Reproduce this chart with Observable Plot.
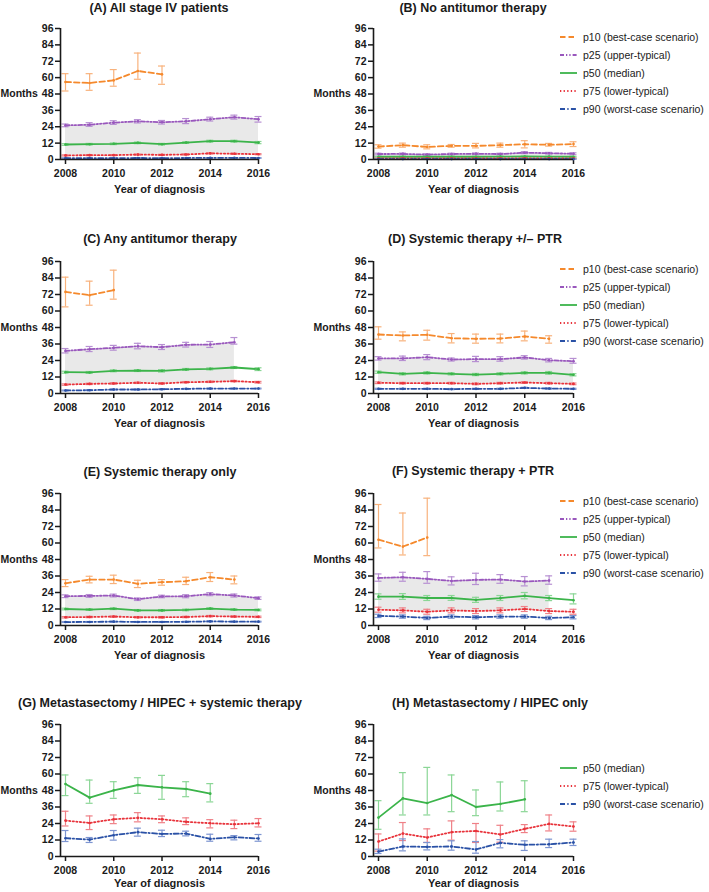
<!DOCTYPE html>
<html><head><meta charset="utf-8">
<script src="https://cdn.jsdelivr.net/npm/d3@7"></script>
<script src="https://cdn.jsdelivr.net/npm/@observablehq/plot@0.6"></script>
<style>
body{margin:0;background:#fff;}
#root{position:relative;width:709px;height:892px;font-family:"Liberation Sans",Arial,sans-serif;overflow:hidden;background:#fff}
.title{position:absolute;font-weight:bold;font-size:12.5px;white-space:nowrap;transform:translate(-50%,-50%);color:#1a1a1a}
.panel{position:absolute}
.legend{position:absolute;font-size:10.5px;color:#1a1a1a}
.legend .row{display:flex;align-items:center;height:17.9px;white-space:nowrap}
.legend svg{margin-right:4px}
svg [aria-label="y-axis tick"] path, svg [aria-label="x-axis tick"] path{stroke-width:1.5}
</style></head><body><div id="root"></div><script>
// ---- data ----
const years = [2008, 2009, 2010, 2011, 2012, 2013, 2014, 2015, 2016];
const xTicks = [2008, 2010, 2012, 2014, 2016];
const yTicks = [0, 12, 24, 36, 48, 60, 72, 84, 96];
const seriesKeys = ["p10", "p25", "p50", "p75", "p90"];
const seriesLabels = ["p10 (best-case scenario)", "p25 (upper-typical)", "p50 (median)", "p75 (lower-typical)", "p90 (worst-case scenario)"];
const titles = ["(A) All stage IV patients", "(B) No antitumor therapy", "(C) Any antitumor therapy", "(D) Systemic therapy +/\u2013 PTR",
  "(E) Systemic therapy only", "(F) Systemic therapy + PTR", "(G) Metastasectomy / HIPEC + systemic therapy", "(H) Metastasectomy / HIPEC only"];

// each entry per year: [estimate, lower CI, upper CI] (months)
const A_p10 = [[56.8,50.2,62.9],[56.1,50.7,62.9],[58,53.7,65.9],[64.9,58.8,78],[62.4,55.1,68.5],null,null,null,null];
const A_p25 = [[25,24,26],[25.5,24.3,27],[27,25.7,28.4],[28,26.8,29.2],[27.3,26,28.6],[28,26.3,30],[29.5,28.2,31],[31,29.6,32.5],[29.5,27.4,31.5]];
const A_p50 = [[11,10.4,11.6],[11.2,10.6,11.8],[11.5,10.9,12.1],[12.2,11.6,12.8],[11.2,10.6,11.8],[12.4,11.8,13],[13.4,12.7,14.1],[13.4,12.7,14.1],[12.4,11.6,13.2]];
const A_p75 = [[3,2.6,3.4],[3.2,2.8,3.6],[3.2,2.8,3.6],[3.6,3.2,4],[3.4,3,3.8],[3.7,3.3,4.1],[4.5,4.1,4.9],[4.2,3.8,4.6],[3.9,3.5,4.3]];
const A_p90 = [[1,0.8,1.2],[1,0.8,1.2],[1,0.8,1.2],[1.1,0.9,1.3],[1,0.8,1.2],[1.1,0.9,1.3],[1.2,1,1.4],[1.2,1,1.4],[1.1,0.9,1.3]];

const B_p10 = [[9.5,8.3,10.8],[10.5,9,12],[9.2,7.8,10.8],[10,9,11],[10,8.5,11.8],[10.5,9,12],[11.2,8.5,13.8],[10.8,9.8,11.8],[11.3,9.5,13]];
const B_p25 = [[4,3.4,4.6],[4.1,3.5,4.7],[3.6,3,4.2],[4,3.4,4.6],[4.2,3.6,4.8],[4,3.4,4.6],[5,4.3,5.7],[4.6,4,5.2],[4.2,3.5,4.9]];
const B_p50 = [[2,1.7,2.3],[2,1.7,2.3],[2,1.7,2.3],[2,1.7,2.3],[2,1.7,2.3],[2.1,1.8,2.4],[2.2,1.9,2.5],[2.1,1.8,2.4],[2,1.7,2.3]];
const B_p75 = [[0.8,0.6,1],[0.8,0.6,1],[0.8,0.6,1],[0.8,0.6,1],[0.8,0.6,1],[0.8,0.6,1],[0.9,0.7,1.1],[0.8,0.6,1],[0.8,0.6,1]];
const B_p90 = [[0.3,0.2,0.4],[0.3,0.2,0.4],[0.3,0.2,0.4],[0.3,0.2,0.4],[0.3,0.2,0.4],[0.3,0.2,0.4],[0.3,0.2,0.4],[0.3,0.2,0.4],[0.3,0.2,0.4]];

const C_p10 = [[73.9,63,84.6],[71.5,64.2,81.7],[75.2,68.6,89.7],null,null,null,null,null,null];
const C_p25 = [[31,29.5,32.7],[32.2,30.5,34.2],[33.2,31.5,35],[34.4,32.5,36.5],[33.7,32,35.6],[35.4,33.8,37.2],[35.6,33.5,37.8],[37.3,35.9,40.7],null];
const C_p50 = [[15.5,14.8,16.2],[15.3,14.6,16],[16.5,15.8,17.2],[16.7,16,17.4],[16.5,15.6,17.4],[17.5,16.8,18.2],[17.9,17.2,18.6],[18.9,18.2,19.6],[17.7,16.7,18.7]];
const C_p75 = [[6.5,6,7],[7,6.5,7.5],[7.3,6.8,7.8],[7.8,7.3,8.3],[7.3,6.8,7.8],[8.2,7.7,8.7],[8.5,8,9],[9,8.5,9.5],[8.2,7.6,8.8]];
const C_p90 = [[2.2,1.9,2.5],[2.4,2.1,2.7],[2.9,2.6,3.2],[2.9,2.6,3.2],[3.1,2.8,3.4],[3.4,3.1,3.7],[3.6,3.3,3.9],[3.6,3.3,3.9],[3.6,3.3,3.9]];

const D_p10 = [[42.9,39.5,48.5],[42.2,38.3,44.8],[42.7,38.8,46],[40.2,36.8,43.6],[39.8,36.6,43.2],[40,36.8,43.2],[41.5,38.3,45.4],[39.8,36.6,42],null];
const D_p25 = [[25.5,24.3,26.8],[25.5,24,27.2],[26.4,24.6,28.3],[24.7,23.6,25.8],[25,23.2,27],[25,23.5,26.8],[26.2,25,27.5],[24.2,23,25.5],[23.5,22,25.5]];
const D_p50 = [[15.5,14.7,16.3],[14.3,13.5,15.1],[15,14.2,15.8],[14.3,13.5,15.1],[13.8,13,14.6],[14.3,13.5,15.1],[15,14.2,15.8],[15,14,16],[13.6,12.8,14.4]];
const D_p75 = [[7.8,7.2,8.4],[7.5,6.9,8.1],[7.5,6.9,8.1],[7.5,6.9,8.1],[7,6.4,7.6],[7.5,6.9,8.1],[8,7.4,8.6],[7.5,6.9,8.1],[7,6.4,7.6]];
const D_p90 = [[3.4,3,3.8],[3.4,3,3.8],[3.4,3,3.8],[3.2,2.8,3.6],[3.4,3,3.8],[3.4,3,3.8],[4.1,3.7,4.5],[3.6,3.2,4],[3.4,3,3.8]];

const E_p10 = [[30.7,28.3,33.4],[33.4,31,35.8],[33.4,30.5,36.6],[30.3,27.6,32.9],[31.5,29.3,33.4],[32.2,29.8,35.1],[35.1,32,38.5],[33.4,30.3,36],null];
const E_p25 = [[21.3,20.3,22.3],[21.5,20.5,22.5],[21.8,20.8,22.8],[19.1,18.2,20],[21.1,20.2,22],[21.3,20.2,22.4],[22.8,21.7,23.9],[21.8,20.7,22.9],[19.9,19,20.8]];
const E_p50 = [[12,11.4,12.6],[11.6,11,12.2],[12.2,11.6,12.8],[11,10.4,11.6],[11,10.4,11.6],[11.3,10.7,11.9],[12.3,11.7,12.9],[11.6,11,12.2],[11.3,10.7,11.9]];
const E_p75 = [[6,5.5,6.5],[6.2,5.7,6.7],[6.5,6,7],[6,5.5,6.5],[6,5.5,6.5],[6.2,5.7,6.7],[6.8,6.3,7.3],[6.5,6,7],[6.3,5.8,6.8]];
const E_p90 = [[2.5,2.2,2.8],[2.6,2.3,2.9],[2.8,2.5,3.1],[2.6,2.3,2.9],[2.6,2.3,2.9],[2.7,2.4,3],[3,2.7,3.3],[2.8,2.5,3.1],[2.8,2.5,3.1]];

const F_p10 = [[62.4,56.4,88],[57.4,51.3,81.8],[64,50.8,92.6],null,null,null,null,null,null];
const F_p25 = [[34.6,32.2,37.5],[35.1,32.2,38.7],[33.9,30.7,39.2],[32.4,29.5,35.4],[33.2,29.8,38],[33.4,30.7,37],[32,28.8,35.6],[32.7,30,36.1],null];
const F_p50 = [[21,19.1,23],[21,19,23.2],[20,18.2,21.8],[20,18.3,21.8],[18.6,16.8,20.5],[19.9,18.2,21.8],[21.6,19.4,24],[19.9,18.1,21.8],[18.4,15.7,23]];
const F_p75 = [[11.5,9.7,13.3],[11,9.2,12.8],[10,8.2,11.8],[11,9.2,12.8],[10.5,8.7,12.3],[11,9.2,12.8],[12,10.2,13.8],[10.5,8.7,12.3],[10,8.2,11.8]];
const F_p90 = [[7,5.8,8.2],[6.5,5.3,7.7],[5.5,4.3,6.7],[6.5,5.3,7.7],[6,4.8,7.2],[6.5,5.3,7.7],[6.5,5.3,7.7],[5.5,4.3,6.7],[6,4.8,7.2]];

const G_p50 = [[52.7,44.3,59.3],[42.8,38.7,55.6],[48.1,42.3,54.4],[52,45.9,57.3],[50.3,41.6,59],[49.1,43.5,54.4],[45.7,39.7,53],null,null];
const G_p75 = [[26.1,22.2,32.9],[24.4,19.6,29.5],[27.1,23.9,30.2],[28.1,25.2,31.9],[27.1,24.6,29.5],[25.2,23.2,28.1],[24.2,20.8,26.8],[23.5,20.3,26.4],[24.2,21.5,27.6]];
const G_p90 = [[13.3,10.9,18.9],[12.3,10.2,13.8],[15.5,11.9,18.9],[17.7,14.8,20.6],[16.4,14.5,19.1],[16.7,15,18.4],[12.8,11.1,16.2],[14,12.1,15.2],[13.1,11.1,16]];

const H_p50 = [[28.3,19.8,40.6],[42.3,30.2,61],[38.9,30.2,64.8],[44.7,32.6,59.3],[36,29.7,48.4],[38.2,33.1,54.2],[41.6,32.6,55.1],null,null];
const H_p75 = [[10.9,3.9,16.4],[16.7,11.6,24.7],[13.8,10.2,20.1],[17.7,11.9,25.9],[18.6,10.2,24],[16,10.4,22.7],[20.1,17.4,23.2],[23.7,18.6,30.2],[21.8,18.4,25.2]];
const H_p90 = [[3.6,2.2,5.3],[7.3,4.1,12.8],[7,4.8,10.2],[7.3,4.6,11.4],[5.1,2.4,10.9],[9.9,6.3,12.3],[8.5,4.4,11.4],[8.9,6.5,12.6],[10.2,8,12.6]];

// ---- styles ----
const styles = {
  p10: {color: "#F5892C", err: "#F8B27C", dash: "5.5,3"},
  p25: {color: "#9957BD", err: "#B790D2", dash: "4,2,1.3,2,1.3,2"},
  p50: {color: "#3BB44A", err: "#8BD696", dash: null},
  p75: {color: "#E8333B", err: "#EF8087", dash: "1.3,2.3"},
  p90: {color: "#2A51A6", err: "#7D95D1", dash: "5,2.3,1.3,2.3"}
};

const panels = [
  {title: titles[0], s: {p10: A_p10, p25: A_p25, p50: A_p50, p75: A_p75, p90: A_p90}, col: 0, row: 0, tx: 159, ty: 8},
  {title: titles[1], s: {p10: B_p10, p25: B_p25, p50: B_p50, p75: B_p75, p90: B_p90}, col: 1, row: 0, tx: 473, ty: 8, legendY: 37, legendKeys: seriesKeys},
  {title: titles[2], s: {p10: C_p10, p25: C_p25, p50: C_p50, p75: C_p75, p90: C_p90}, col: 0, row: 1, tx: 160, ty: 239},
  {title: titles[3], s: {p10: D_p10, p25: D_p25, p50: D_p50, p75: D_p75, p90: D_p90}, col: 1, row: 1, tx: 475, ty: 239, legendY: 269, legendKeys: seriesKeys},
  {title: titles[4], s: {p10: E_p10, p25: E_p25, p50: E_p50, p75: E_p75, p90: E_p90}, col: 0, row: 2, tx: 160, ty: 472},
  {title: titles[5], s: {p10: F_p10, p25: F_p25, p50: F_p50, p75: F_p75, p90: F_p90}, col: 1, row: 2, tx: 473, ty: 471, legendY: 501, legendKeys: seriesKeys},
  {title: titles[6], s: {p50: G_p50, p75: G_p75, p90: G_p90}, col: 0, row: 3, tx: 160, ty: 703},
  {title: titles[7], s: {p50: H_p50, p75: H_p75, p90: H_p90}, col: 1, row: 3, tx: 490, ty: 703, legendY: 768, legendKeys: ["p50", "p75", "p90"]}
];

const rowY96 = [28, 261, 493, 724];
const rowY0 = [159, 393, 625, 856];
const rowLabelDy = [30, 30, 30, 27];
const colLeft = [0, 313];
const colMR = [22, 20];
const root = document.getElementById("root");
const FONT = "'Liberation Sans', Arial, Helvetica, sans-serif";

function rowsOf(arr) {
  const out = [];
  arr.forEach((t, i) => { if (t) out.push({year: years[i], v: t[0], lo: t[1], hi: t[2]}); });
  return out;
}

for (const P of panels) {
  const mt = 10, mb = 45;
  const plotH = rowY0[P.row] - rowY96[P.row];
  const height = mt + plotH + mb;
  const keys = seriesKeys.filter(k => P.s[k]);
  const marks = [];
  // typical range band (p25 to p75)
  if (P.s.p25 && P.s.p75) {
    const band = years.map((y, i) => ({year: y, a: P.s.p75[i] ? P.s.p75[i][0] : null, b: P.s.p25[i] ? P.s.p25[i][0] : null}))
      .filter(d => d.a != null && d.b != null);
    marks.push(Plot.areaY(band, {x: "year", y1: "a", y2: "b", fill: "#e9e9e9", curve: "linear"}));
  }
  // error bars
  for (const k of keys) {
    const r = rowsOf(P.s[k]);
    const st = styles[k];
    marks.push(Plot.ruleX(r, {x: "year", y1: "lo", y2: "hi", stroke: st.err, strokeWidth: 1.2}));
    marks.push(Plot.ruleY(r, {y: "hi", x1: "year", x2: "year", insetLeft: -3.5, insetRight: -3.5, stroke: st.err, strokeWidth: 1.2}));
    marks.push(Plot.ruleY(r, {y: "lo", x1: "year", x2: "year", insetLeft: -3.5, insetRight: -3.5, stroke: st.err, strokeWidth: 1.2}));
  }
  // lines
  for (const k of keys) {
    const r = rowsOf(P.s[k]);
    const st = styles[k];
    const opts = {x: "year", y: "v", stroke: st.color, strokeWidth: 1.8};
    if (st.dash) opts.strokeDasharray = st.dash;
    marks.push(Plot.line(r, opts));
    marks.push(Plot.dot(r, {x: "year", y: "v", r: 1.3, fill: st.color, stroke: "none"}));
  }
  // axis lines
  marks.push(Plot.ruleY([0], {stroke: "#1a1a1a", strokeWidth: 1.6}));
  marks.push(Plot.ruleX([2008], {y1: 0, y2: 96, dx: -5, stroke: "#1a1a1a", strokeWidth: 1.6}));
  // axis titles
  marks.push(Plot.text(["Months"], {frameAnchor: "left", y: () => 48, dx: -60, textAnchor: "start", lineAnchor: "middle", fontSize: 10.5, fontWeight: "bold", fill: "#1a1a1a"}));
  marks.push(Plot.text(["Year of diagnosis"], {frameAnchor: "bottom", dy: rowLabelDy[P.row], lineAnchor: "middle", fontSize: 11, fontWeight: "bold", fill: "#1a1a1a"}));

  const chart = Plot.plot({
    width: 280,
    height,
    marginTop: mt,
    marginBottom: mb,
    marginLeft: 60,
    marginRight: colMR[P.col],
    insetLeft: 5,
    style: {fontFamily: FONT, fontSize: "10.5px", fontWeight: "bold", color: "#1a1a1a", background: "transparent", overflow: "visible"},
    x: {domain: [2008, 2016], ticks: xTicks, tickFormat: d => String(d), tickSize: 5, tickPadding: 5.5, label: null},
    y: {domain: [0, 96], ticks: yTicks, tickSize: 5, tickPadding: 2, label: null},
    marks
  });
  const wrap = document.createElement("div");
  wrap.className = "panel";
  wrap.style.left = colLeft[P.col] + "px";
  wrap.style.top = (rowY96[P.row] - mt) + "px";
  wrap.appendChild(chart);
  root.appendChild(wrap);

  const t = document.createElement("div");
  t.className = "title";
  t.style.left = P.tx + "px";
  t.style.top = P.ty + "px";
  t.textContent = P.title;
  root.appendChild(t);

  if (P.legendKeys) {
    const lg = document.createElement("div");
    lg.className = "legend";
    lg.style.left = "558px";
    lg.style.top = (P.legendY - 9) + "px";
    for (const k of P.legendKeys) {
      const st = styles[k];
      const row = document.createElement("div");
      row.className = "row";
      row.innerHTML = `<svg width="21" height="10"><line x1="2" x2="19" y1="5" y2="5" stroke="${st.color}" stroke-width="1.8" ${st.dash ? `stroke-dasharray="${st.dash}"` : ""}/></svg><span>${seriesLabels[seriesKeys.indexOf(k)]}</span>`;
      lg.appendChild(row);
    }
    root.appendChild(lg);
  }
}
</script></body></html>
